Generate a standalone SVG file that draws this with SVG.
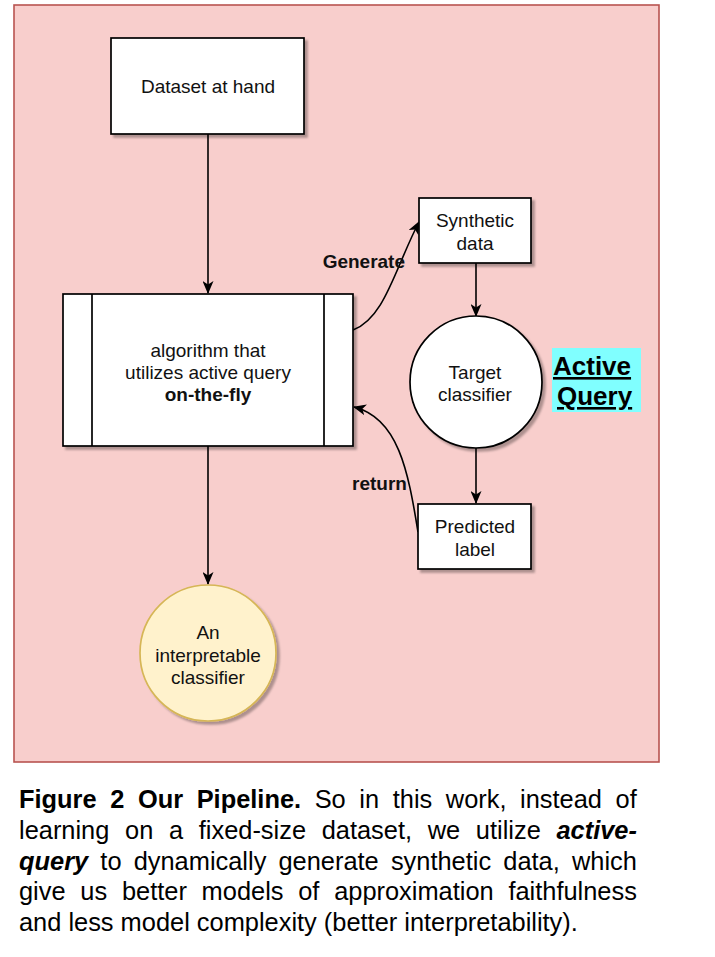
<svg xmlns="http://www.w3.org/2000/svg" width="715" height="957" viewBox="0 0 715 957">
<style>
.box{fill:#ffffff;stroke:#000000;stroke-width:1.7}
.lbl{font-family:"Liberation Sans",Arial,sans-serif;font-size:19px;fill:#111111;text-anchor:middle}
.b{font-weight:bold}
.edge{fill:none;stroke:#000000;stroke-width:1.6}
.cap{font-family:"Liberation Sans",Arial,sans-serif;font-size:25.4px;fill:#000000}
</style>
<defs>
<filter id="sh" x="-10%" y="-10%" width="130%" height="130%">
<feDropShadow dx="3" dy="3" stdDeviation="1" flood-color="#000000" flood-opacity="0.3"/>
</filter>
<marker id="arr" viewBox="0 0 13 11" refX="12" refY="5.5" markerWidth="13" markerHeight="11" markerUnits="userSpaceOnUse" orient="auto">
<path d="M0,0 L13,5.5 L0,11 L3.5,5.5 Z" fill="#000000"/>
</marker>
</defs>
<rect id="frame" x="14" y="5" width="645" height="757" fill="#f8cecc" stroke="#b85450" stroke-width="1.6"/>

<g id="connectors">
<path class="edge" d="M208,134 L208,293" marker-end="url(#arr)"/>
<path class="edge" d="M208,446 L208,584" marker-end="url(#arr)"/>
<path class="edge" d="M353,330 C385,318 395,268 419,222" marker-end="url(#arr)"/>
<path class="edge" d="M476,263 L476,316" marker-end="url(#arr)"/>
<path class="edge" d="M476,448 L476,503" marker-end="url(#arr)"/>
<path class="edge" d="M418,532 C408,470 398,418 354,407" marker-end="url(#arr)"/>
<text class="lbl b" x="405" y="268" style="text-anchor:end">Generate</text>
<text class="lbl b" x="352" y="490" style="text-anchor:start">return</text>
</g>

<g id="dataset">
<rect class="box" x="111" y="38" width="193" height="96" filter="url(#sh)"/>
<text class="lbl" x="208" y="93">Dataset at hand</text>
</g>

<g id="algorithm">
<rect class="box" x="63" y="294" width="290" height="152" filter="url(#sh)"/>
<line x1="92" y1="294" x2="92" y2="446" stroke="#000" stroke-width="1.7"/>
<line x1="324" y1="294" x2="324" y2="446" stroke="#000" stroke-width="1.7"/>
<text class="lbl" x="208" y="357">algorithm that</text>
<text class="lbl" x="208" y="379">utilizes active query</text>
<text class="lbl b" x="208" y="401">on-the-fly</text>
</g>

<g id="synthetic">
<rect class="box" x="419" y="198" width="112" height="65" filter="url(#sh)"/>
<text class="lbl" x="475" y="227">Synthetic</text>
<text class="lbl" x="475" y="250">data</text>
</g>

<g id="target">
<circle class="box" cx="476" cy="382" r="66" filter="url(#sh)"/>
<text class="lbl" x="475" y="379">Target</text>
<text class="lbl" x="475" y="401">classifier</text>
</g>

<g id="predicted">
<rect class="box" x="418" y="504" width="113" height="65" filter="url(#sh)"/>
<text class="lbl" x="475" y="533">Predicted</text>
<text class="lbl" x="475" y="556">label</text>
</g>

<g id="interpretable">
<circle cx="208" cy="653" r="68" fill="#fff2cc" stroke="#d6b656" stroke-width="1.7" filter="url(#sh)"/>
<text class="lbl" x="208" y="639">An</text>
<text class="lbl" x="208" y="662">interpretable</text>
<text class="lbl" x="208" y="684">classifier</text>
</g>

<g id="activequery">
<rect x="552" y="348" width="89" height="64" fill="#80ffff"/>
<text x="553" y="375" font-family="'Liberation Sans',Arial,sans-serif" font-size="26" font-weight="bold" text-decoration="underline" fill="#000">Active </text>
<text x="557" y="405" font-family="'Liberation Sans',Arial,sans-serif" font-size="26" font-weight="bold" text-decoration="underline" fill="#000">Query</text>
</g>

<g id="caption">
<text class="cap" x="19" y="808" word-spacing="6.55"><tspan font-weight="bold">Figure 2 Our Pipeline.</tspan> So in this work, instead of</text>
<text class="cap" x="19" y="839" word-spacing="8.63">learning on a fixed-size dataset, we utilize <tspan font-weight="bold" font-style="italic">active-</tspan></text>
<text class="cap" x="19" y="870" word-spacing="5.12"><tspan font-weight="bold" font-style="italic">query</tspan> to dynamically generate synthetic data, which</text>
<text class="cap" x="19" y="900" word-spacing="7.71">give us better models of approximation faithfulness</text>
<text class="cap" x="19" y="931">and less model complexity (better interpretability).</text>
</g>
</svg>
